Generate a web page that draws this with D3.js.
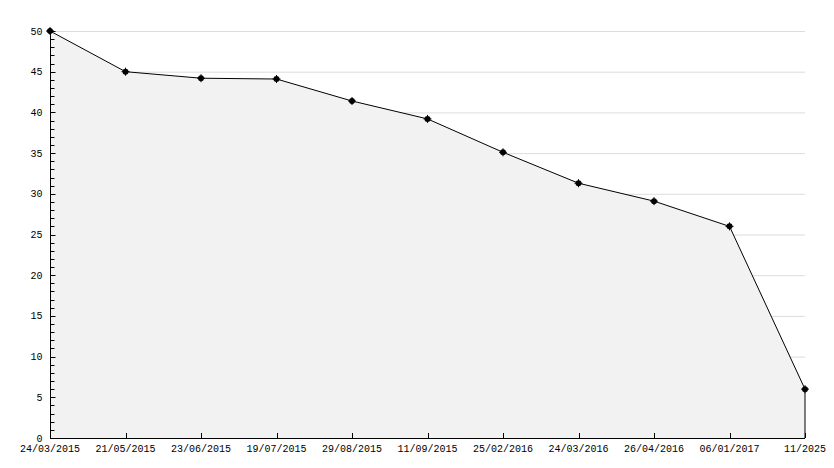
<!DOCTYPE html>
<html><head><meta charset="utf-8">
<script src="https://cdn.jsdelivr.net/npm/d3@7"></script>
<style>body{margin:0;background:#fff}svg{display:block}</style>
</head><body>
<svg id="c" width="834" height="468"></svg>
<script>
const categories = ["24/03/2015","21/05/2015","23/06/2015","19/07/2015","29/08/2015","11/09/2015","25/02/2016","24/03/2016","26/04/2016","06/01/2017","11/2025"];
const values = [50, 45, 44.2, 44.1, 41.4, 39.2, 35.1, 31.3, 29.1, 26.0, 6.0];
const yTicks = [0,5,10,15,20,25,30,35,40,45,50];

const svg = d3.select("#c");
const L = 50, R = 805, T = 31, B = 438;
const x = d3.scalePoint().domain(categories).range([L, R]);
const y = d3.scaleLinear().domain([0, 50]).range([B, T]);
const font = "'Liberation Mono', monospace";

// gridlines
svg.append("g").selectAll("line").data(yTicks.filter(d => d > 0)).join("line")
  .attr("x1", L).attr("x2", R).attr("y1", d => y(d) + 0.5).attr("y2", d => y(d) + 0.5)
  .attr("stroke", "#dcdcdc").attr("stroke-width", 1);

// area
const area = d3.area().x((d, i) => x(categories[i])).y0(y(0)).y1(d => y(d));
svg.append("path").datum(values).attr("d", area).attr("fill", "#f2f2f2");
const line = d3.line().x((d, i) => x(categories[i])).y(d => y(d));
svg.append("path").datum(values).attr("d", line).attr("fill", "none").attr("stroke", "#000").attr("stroke-width", 1);
svg.append("line").attr("x1", x(categories[categories.length-1])).attr("x2", x(categories[categories.length-1]))
  .attr("y1", y(values[values.length-1])).attr("y2", y(0)).attr("stroke", "#000");

// y axis
const yAxis = svg.append("g").attr("transform", `translate(${L + 0.5},0)`);
yAxis.append("line").attr("x1", 0).attr("x2", 0).attr("y1", T).attr("y2", B).attr("stroke", "#000");
yAxis.selectAll("line.minor").data(d3.range(0, 51)).join("line").attr("class", "minor")
  .attr("x1", 0).attr("x2", d => d % 5 === 0 ? 5 : 4).attr("y1", d => Math.round(y(d)) + 0.5).attr("y2", d => Math.round(y(d)) + 0.5)
  .attr("stroke", "#000");
yAxis.selectAll("text").data(yTicks).join("text")
  .attr("x", -8).attr("y", d => y(d)).attr("dy", "0.35em").attr("text-anchor", "end")
  .attr("font-family", font).attr("font-size", 10).text(d => d);

// x axis
const xAxis = svg.append("g");
xAxis.append("line").attr("x1", L).attr("x2", R).attr("y1", B + 0.5).attr("y2", B + 0.5).attr("stroke", "#000");
xAxis.selectAll("line.t").data(categories).join("line").attr("class", "t")
  .attr("x1", d => Math.round(x(d)) + 0.5).attr("x2", d => Math.round(x(d)) + 0.5).attr("y1", B).attr("y2", B - 5).attr("stroke", "#000");
xAxis.selectAll("text").data(categories).join("text")
  .attr("x", d => x(d)).attr("y", B + 14).attr("text-anchor", "middle")
  .attr("font-family", font).attr("font-size", 10).text(d => d);

// markers
const mk = svg.append("g").selectAll("g").data(values).join("g")
  .attr("transform", (d, i) => `translate(${x(categories[i])},${y(d)})`);
mk.append("circle").attr("r", 3).attr("fill", "#000");
mk.append("path").attr("d", "M-4,0H4M0,-4V4").attr("stroke", "#000").attr("stroke-width", 1);
</script>
</body></html>
